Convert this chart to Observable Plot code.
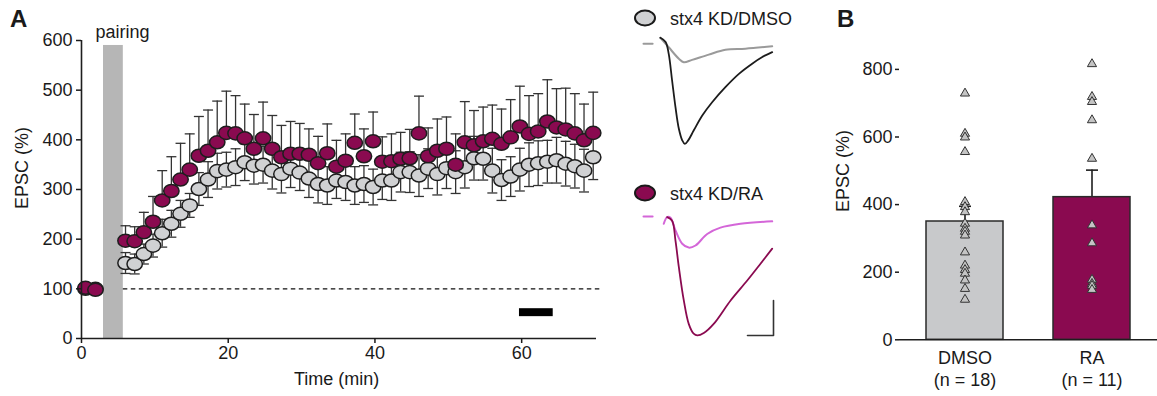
<!DOCTYPE html>
<html><head><meta charset="utf-8">
<script src="https://cdn.jsdelivr.net/npm/d3@7"></script>
<script src="https://cdn.jsdelivr.net/npm/@observablehq/plot@0.6"></script>
<style>
body{margin:0;background:#fff;}
#wrap{position:relative;width:1157px;height:396px;overflow:hidden;font-family:"Liberation Sans",Arial,sans-serif;color:#1a1a1a;}
#wrap > svg, #wrap > .p{position:absolute;}
.t{position:absolute;font-size:18px;line-height:18px;white-space:nowrap;}
.panel{position:absolute;font-size:24px;line-height:24px;font-weight:bold;}
.ylab{position:absolute;width:120px;text-align:center;font-size:18px;line-height:18px;transform:rotate(-90deg);white-space:nowrap;}
</style></head><body><div id="wrap"></div>
<script>
// ---------------- Panel A data ----------------
const baselineTime = [0.55, 1.9];
const baselineDMSO = [100, 100];
const baselineRA = [102, 98];
const time = [6.0, 7.25, 8.5, 9.75, 11.0, 12.25, 13.5, 14.75, 16.0, 17.25, 18.5, 19.75, 21.0, 22.25, 23.5, 24.75, 26.0, 27.25, 28.5, 29.75, 31.0, 32.25, 33.5, 34.75, 36.0, 37.25, 38.5, 39.75, 41.0, 42.25, 43.5, 44.75, 46.0, 47.25, 48.5, 49.75, 51.0, 52.25, 53.5, 54.75, 56.0, 57.25, 58.5, 59.75, 61.0, 62.25, 63.5, 64.75, 66.0, 67.25, 68.5, 69.75];
const dmso = [152,150,170,187,212,231,251,268,301,320,337,340,345,355,348,350,338,331,342,334,322,311,308,318,315,308,311,305,318,318,335,335,328,342,331,343,335,345,363,362,338,319,326,340,350,353,356,359,352,347,338,365];
const dmsoErr = [21,20,20,23,28,27,27,24,33,36,36,35,37,37,37,37,37,38,38,36,38,38,38,36,37,38,37,36,38,40,40,41,42,40,42,41,43,42,44,43,45,41,40,43,44,45,43,46,45,44,43,45];
const ra = [197,196,214,235,278,297,320,340,368,378,395,414,413,403,382,403,382,365,372,372,370,353,373,346,358,394,367,397,356,357,362,363,413,367,378,382,350,395,389,397,402,392,405,427,412,417,437,425,421,413,399,414];
const raErr = [30,29,40,51,60,69,73,72,79,82,83,84,76,69,69,73,67,64,65,61,52,54,59,53,54,58,55,59,50,55,53,58,75,57,64,64,62,82,70,69,68,70,76,81,77,76,84,78,83,80,73,82];
const pairing = [3.0, 5.7];        // min
const pairingTop = 590;
const baselineLevel = 100;
const dashedEnd = 70.9;
const analysisWindow = [59.7, 64.3]; // min (black bar)
const analysisBarY = [44, 60];
const xTicksA = [0, 20, 40, 60];
const yTicksA = [0, 100, 200, 300, 400, 500, 600];

// ---------------- Traces (ms, pA) ----------------
const dmsoBaseT = [6.5, 9.7, 13.6, 15.5, 18.7, 25.1, 31.5, 39.2, 49.5];
const dmsoBaseI = [0, -27, -60, -70, -63, -48, -34, -31, -24];
const dmsoPostT = [6.5, 8.5, 9.7, 11.0, 12.3, 13.6, 14.9, 15.9, 17.2, 19.3, 22.6, 26.4, 31.5, 36.7, 41.8, 45.7, 49.5];
const dmsoPostI = [0, -12, -46, -122, -198, -260, -293, -303, -293, -265, -222, -184, -141, -103, -74, -55, -41];
const raBaseT = [7.8, 9.1, 10.4, 12.3, 14.9, 17.4, 20.0, 24.5, 29.6, 37.3, 49.5];
const raBaseI = [-18, 1, -1, -37, -75, -86, -80, -47, -29, -18, -11];
const raPostT = [9.1, 11.0, 12.3, 13.6, 15.5, 17.4, 19.3, 20.7, 23.2, 27.0, 33.5, 39.9, 45.0, 49.5];
const raPostI = [1, -9, -66, -142, -237, -304, -332, -337, -330, -304, -237, -180, -132, -89];
const stimMarkT = [0, 3.5];
const dmsoMarkI = -17;
const raMarkI = 3;
const scaleBarT = [40, 50];   // 10 ms
const scaleBarI = [-337, -237]; // 100 pA

// ---------------- Panel B data ----------------
const groups = ["DMSO", "RA"];
const nCells = [18, 11];
const means = [350, 422];
const sems = [45, 80];
const dmsoCells = [729,610,599,556,408,393,378,344,329,320,309,259,220,207,196,176,151,119];
const raCells = [816,719,704,650,536,339,286,178,166,160,148];
const yTicksB = [0, 200, 400, 600, 800];

// ---------------- colours ----------------
const cRA = "#8a0a50", cGrey = "#d0d1d3", cLine = "#1e1e1e";
const cRAlight = "#d466d8", cDMSOlight = "#9a9a9a";

const ellipse = {draw(ctx, size){ const r = Math.sqrt(size/Math.PI), rx = r*1.1, ry = r*0.93, k = 0.5523;
  ctx.moveTo(rx,0); ctx.bezierCurveTo(rx, ry*k, rx*k, ry, 0, ry); ctx.bezierCurveTo(-rx*k, ry, -rx, ry*k, -rx, 0);
  ctx.bezierCurveTo(-rx, -ry*k, -rx*k, -ry, 0, -ry); ctx.bezierCurveTo(rx*k, -ry, rx, -ry*k, rx, 0); ctx.closePath(); }};
const cap = {draw(ctx, size){ const r = Math.sqrt(size/Math.PI); ctx.moveTo(-r,0); ctx.lineTo(r,0); }};

const wrap = document.getElementById("wrap");
const place = (el, left, top) => { el.style.position = "absolute"; el.style.left = left + "px"; el.style.top = top + "px"; wrap.appendChild(el); };
const baseStyle = {fontFamily: "Liberation Sans, Arial, sans-serif", fontSize: "18px", background: "transparent", overflow: "visible", color: "#1a1a1a"};

// ---------------- Panel A ----------------
const rowsA = time.map((t, i) => ({t, dmso: dmso[i], dErr: dmsoErr[i], ra: ra[i], rErr: raErr[i]}));
const baseRows = baselineTime.map((t, i) => ({t, dmso: baselineDMSO[i], ra: baselineRA[i]}));
const plotA = Plot.plot({
  width: 610, height: 396, marginLeft: 81, marginRight: 14, marginTop: 40, marginBottom: 58,
  style: baseStyle,
  x: {domain: [0, 70.2]}, y: {domain: [0, 600]},
  marks: [
    Plot.rect([pairing], {x1: d => d[0], x2: d => d[1], y1: 0, y2: pairingTop, fill: "#b6b6b6"}),
    Plot.ruleY([baselineLevel], {x1: pairing[1], x2: dashedEnd, stroke: "#111", strokeWidth: 1.3, strokeDasharray: "4.5,3.5"}),
    Plot.rect([analysisWindow], {x1: d => d[0], x2: d => d[1], y1: analysisBarY[0], y2: analysisBarY[1], fill: "#000"}),
    Plot.ruleX(rowsA, {x: "t", y1: d => d.dmso - d.dErr, y2: d => d.dmso + d.dErr, stroke: "#333", strokeWidth: 1.3}),
    Plot.dot(rowsA, {x: "t", y: d => d.dmso - d.dErr, symbol: cap, r: 5, stroke: "#333", strokeWidth: 1.3, fill: "none"}),
    Plot.dot(rowsA, {x: "t", y: d => d.dmso + d.dErr, symbol: cap, r: 5, stroke: "#333", strokeWidth: 1.3, fill: "none"}),
    Plot.dot(baseRows, {x: "t", y: "dmso", symbol: ellipse, r: 7, fill: cGrey, stroke: cLine, strokeWidth: 1.5}),
    Plot.dot(rowsA, {x: "t", y: "dmso", symbol: ellipse, r: 7, fill: cGrey, stroke: cLine, strokeWidth: 1.5}),
    Plot.ruleX(rowsA, {x: "t", y1: "ra", y2: d => d.ra + d.rErr, stroke: "#333", strokeWidth: 1.3}),
    Plot.dot(rowsA, {x: "t", y: d => d.ra + d.rErr, symbol: cap, r: 5, stroke: "#333", strokeWidth: 1.3, fill: "none"}),
    Plot.dot(baseRows, {x: "t", y: "ra", symbol: ellipse, r: 7, fill: cRA, stroke: cLine, strokeWidth: 1.5}),
    Plot.dot(rowsA, {x: "t", y: "ra", symbol: ellipse, r: 7, fill: cRA, stroke: cLine, strokeWidth: 1.5}),
    Plot.ruleX([0], {stroke: cLine, strokeWidth: 1.6}),
    Plot.ruleY([0], {stroke: cLine, strokeWidth: 1.6}),
    Plot.axisX({ticks: xTicksA, tickSize: 5, tickPadding: 3, label: null, strokeWidth: 1.5}),
    Plot.axisY({ticks: yTicksA, tickSize: 5, tickPadding: 4, label: null, strokeWidth: 1.5})
  ]
});
place(plotA, 0, 0);

// ---------------- Traces ----------------
const toRows = (T, I) => T.map((t, i) => ({t, i: I[i]}));
const traceStyle = {...baseStyle};
const plotT1 = Plot.plot({
  width: 170, height: 170, marginLeft: 23, marginRight: 17, marginTop: 19.8, marginBottom: 10.2,
  style: traceStyle, x: {domain: [0, 50], axis: null}, y: {domain: [-350, 50], axis: null},
  marks: [
    Plot.line(stimMarkT.map(t => ({t, i: dmsoMarkI})), {x: "t", y: "i", stroke: cDMSOlight, strokeWidth: 2}),
    Plot.line(toRows(dmsoBaseT, dmsoBaseI), {x: "t", y: "i", stroke: cDMSOlight, strokeWidth: 2, curve: "catmull-rom"}),
    Plot.line(toRows(dmsoPostT, dmsoPostI), {x: "t", y: "i", stroke: "#1c1c1c", strokeWidth: 1.8, curve: "catmull-rom"})
  ]
});
place(plotT1, 620, 0);
const plotT2 = Plot.plot({
  width: 170, height: 160, marginLeft: 23, marginRight: 17, marginTop: 9.5, marginBottom: 10.5,
  style: traceStyle, x: {domain: [0, 50], axis: null}, y: {domain: [-350, 50], axis: null},
  marks: [
    Plot.line(stimMarkT.map(t => ({t, i: raMarkI})), {x: "t", y: "i", stroke: cRAlight, strokeWidth: 2}),
    Plot.line(toRows(raBaseT, raBaseI), {x: "t", y: "i", stroke: cRAlight, strokeWidth: 2, curve: "catmull-rom"}),
    Plot.line(toRows(raPostT, raPostI), {x: "t", y: "i", stroke: cRA, strokeWidth: 1.8, curve: "catmull-rom"}),
    Plot.line([{t: scaleBarT[0], i: scaleBarI[0]}, {t: scaleBarT[1], i: scaleBarI[0]}, {t: scaleBarT[1], i: scaleBarI[1]}], {x: "t", y: "i", stroke: "#333", strokeWidth: 1.6})
  ]
});
place(plotT2, 620, 190);

// ---------------- Panel B ----------------
const rowsB = groups.map((g, k) => ({g, mean: means[k], sem: sems[k], n: nCells[k]}));
const cells = [...dmsoCells.map(v => ({g: "DMSO", v})), ...raCells.map(v => ({g: "RA", v}))];
const labelB = g => { const k = groups.indexOf(g); return `${g}\n(n = ${nCells[k]})`; };
const plotB = Plot.plot({
  width: 337, height: 396, marginLeft: 79, marginRight: 0, marginTop: 52, marginBottom: 56.7,
  style: baseStyle,
  x: {type: "band", domain: groups, range: [105, 311], paddingInner: 0.39, paddingOuter: 0, align: 0.5},
  y: {domain: [0, 850]},
  marks: [
    Plot.ruleX(rowsB, {x: "g", y1: "mean", y2: d => d.mean + d.sem, stroke: "#1e1e1e", strokeWidth: 1.6}),
    Plot.dot(rowsB, {x: "g", y: d => d.mean + d.sem, symbol: cap, r: 6, stroke: "#1e1e1e", strokeWidth: 1.6, fill: "none"}),
    Plot.barY(rowsB, {x: "g", y: "mean", fill: d => d.g === "RA" ? cRA : "#c8c9cb", stroke: "#2a2a2a", strokeWidth: 1.5}),
    Plot.dot(cells, {x: "g", y: "v", symbol: "triangle", r: 3.4, fill: "#c4c4c4", stroke: "#333", strokeWidth: 1}),
    Plot.ruleX([0], {x: () => 0, stroke: cLine, strokeWidth: 1.6}),
    Plot.ruleY([0], {stroke: cLine, strokeWidth: 1.6}),
    Plot.axisX({tickSize: 0, tickPadding: 8, tickFormat: labelB, lineHeight: 1.25, label: null}),
    Plot.axisY({ticks: yTicksB, tickSize: 4, tickPadding: 3, label: null, strokeWidth: 1.5})
  ]
});
place(plotB, 820, 0);

// ---------------- Text ----------------
function txt(cls, html, left, top, extra) { const d = document.createElement("div"); d.className = cls; d.textContent = html; d.style.left = left + "px"; d.style.top = top + "px"; if (extra) Object.assign(d.style, extra); wrap.appendChild(d); return d; }
txt("panel", "A", 10, 7);
txt("panel", "B", 837, 7);
txt("t", "pairing", 122.5, 23, {transform: "translateX(-50%)"});
txt("t", "Time (min)", 336.7, 369.5, {transform: "translateX(-50%)"});
txt("ylab", "EPSC (%)", 22 - 60, 168 - 9);
txt("ylab", "EPSC (%)", 843 - 60, 171 - 9);
txt("t", "stx4 KD/DMSO", 670, 9.8);
txt("t", "stx4 KD/RA", 670, 184.8);
function legendEllipse(cx, cy, fill) {
  const s = d3.create("svg").attr("width", 24).attr("height", 20).style("position", "absolute").style("left", (cx - 12) + "px").style("top", (cy - 10) + "px");
  s.append("ellipse").attr("cx", 12).attr("cy", 10).attr("rx", 10).attr("ry", 7.5).attr("fill", fill).attr("stroke", "#1a1a1a").attr("stroke-width", 2);
  wrap.appendChild(s.node());
}
legendEllipse(645, 18.3, cGrey);
legendEllipse(645, 193.3, cRA);
</script></body></html>
